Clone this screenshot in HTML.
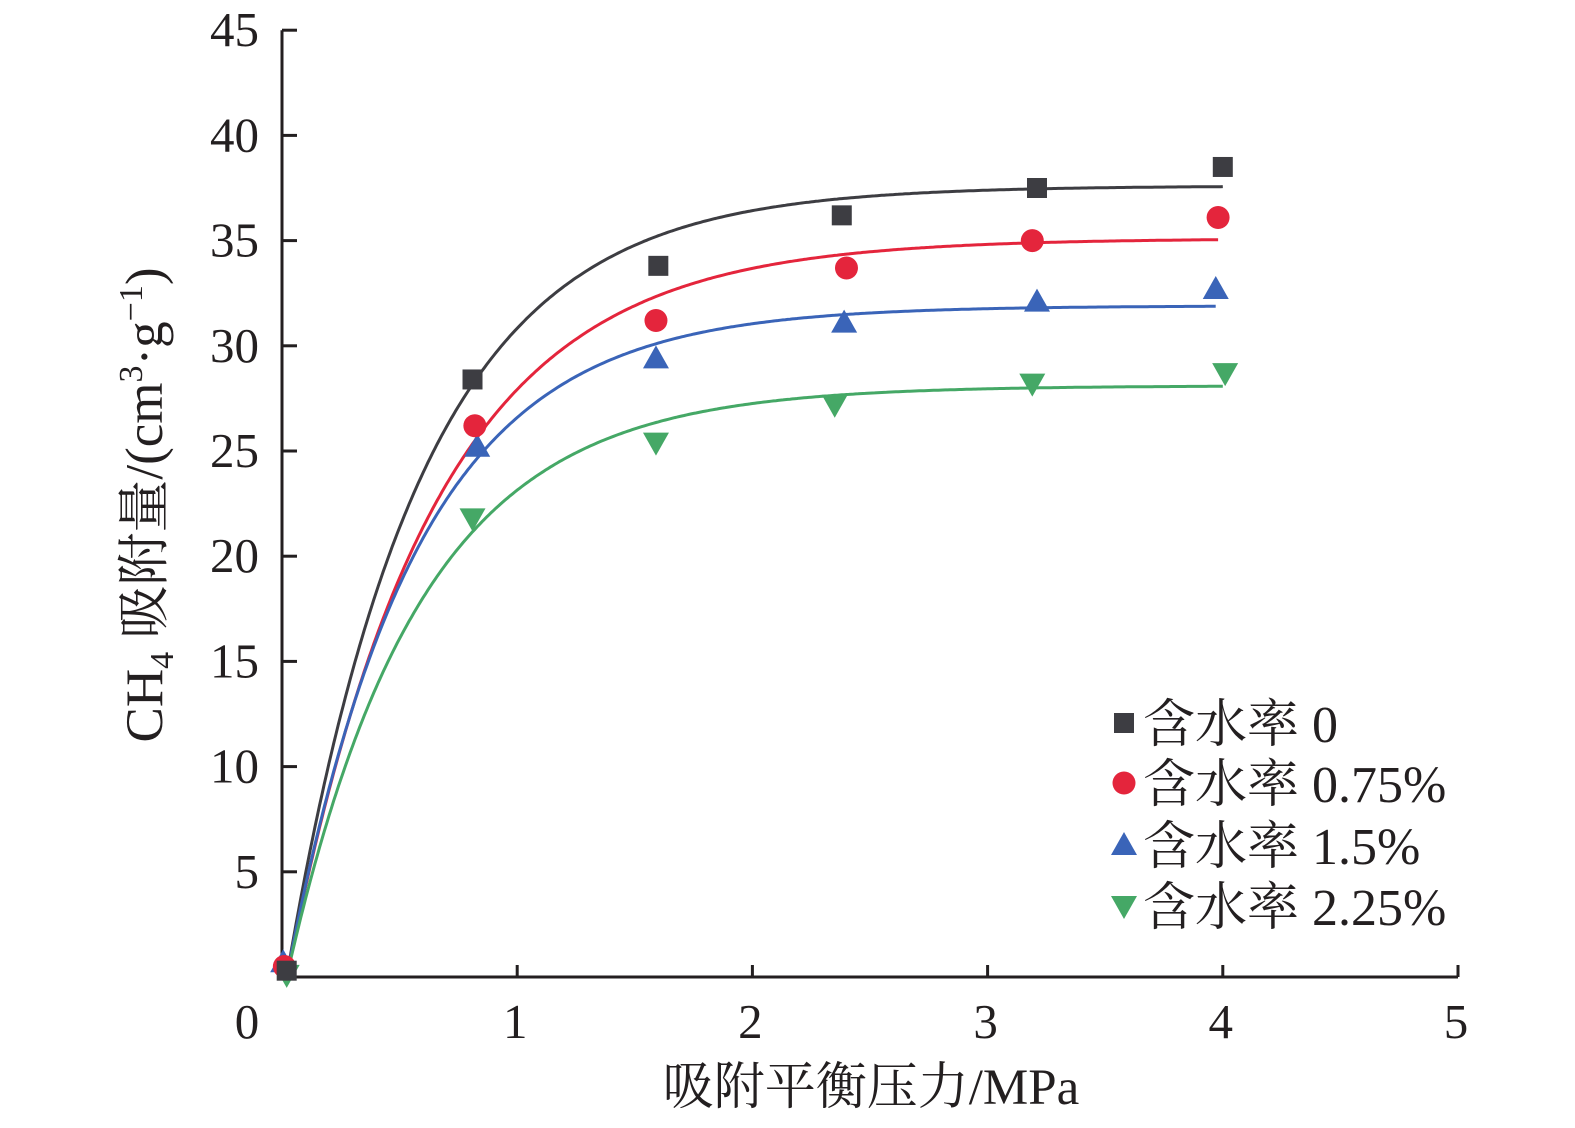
<!DOCTYPE html>
<html><head><meta charset="utf-8"><style>
html,body{margin:0;padding:0;background:#fff;overflow:hidden;}
svg{display:block;}
text{font-family:"Liberation Serif","Noto Serif CJK SC",serif;fill:#231f20;}
</style></head><body>
<svg id="chart" width="1575" height="1128" viewBox="0 0 1575 1128" xmlns="http://www.w3.org/2000/svg">
<g id="axes"></g>
<g id="curves"></g>
<g id="marks"></g>
<g id="legend"></g>
<text x="871" y="1104" font-size="51" text-anchor="middle">吸附平衡压力/MPa</text>
<text transform="translate(162,505) rotate(-90)" font-size="53" text-anchor="middle">CH<tspan font-size="34" dy="11">4</tspan><tspan dy="-11"> 吸附量/(cm</tspan><tspan font-size="34" dy="-20">3</tspan><tspan dy="20">·g</tspan><tspan font-size="34" dy="-20">−1</tspan><tspan dy="20">)</tspan></text>
</svg>
<script>
const xTicks=[0,1,2,3,4,5];
const yTicks=[5,10,15,20,25,30,35,40,45];
const seriesNames=["含水率 0","含水率 0.75%","含水率 1.5%","含水率 2.25%"];
const seriesColors=["#3d3d42","#e4253c","#3a64b8","#45a866"];
const seriesShapes=["square","circle","triangle","tri-down"];
const pressures0=[0.02,0.81,1.6,2.38,3.21,4.0];
const values0=[0.3,28.4,33.8,36.2,37.5,38.5];
const pressures1=[0.01,0.82,1.59,2.40,3.19,3.98];
const values1=[0.5,26.2,31.2,33.7,35.0,36.1];
const pressures2=[0.005,0.83,1.59,2.39,3.21,3.97];
const values2=[0.7,25.2,29.4,31.1,32.1,32.7];
const pressures3=[0.02,0.81,1.59,2.35,3.19,4.01];
const values3=[0.1,21.8,25.4,27.2,28.2,28.7];
const fitA=[37.6,35.1,31.9,28.1];
const fitK=[1.75,1.62,1.83,1.77];
const fitEnd=[4.0,3.98,3.97,4.0];

const X=p=>282+p*235.2;
const Y=v=>977-v*21.04;
const NS="http://www.w3.org/2000/svg";
function mk(tag,parent,attrs){const e=document.createElementNS(NS,tag);for(const k in attrs)e.setAttribute(k,attrs[k]);parent.appendChild(e);return e;}
const axes=document.getElementById('axes');
let a=mk('line',axes,{x1:282,y1:Y(45),x2:282,y2:978.5,stroke:'#231f20','stroke-width':3});


a=mk('line',axes,{x1:280.5,y1:977,x2:X(5),y2:977,stroke:'#231f20','stroke-width':3});


xTicks.forEach(t=>{
  if(t>0){const l=mk('line',axes,{x1:X(t),y1:977,x2:X(t),y2:965,stroke:'#231f20','stroke-width':3});
  
  }
  const tx=mk('text',axes,{x:t===0?247:X(t)-2,y:1038,'font-size':49,'text-anchor':'middle'});
  tx.textContent=t;
  
  
});
yTicks.forEach(t=>{
  const l=mk('line',axes,{x1:282,y1:Y(t),x2:297,y2:Y(t),stroke:'#231f20','stroke-width':3});
  
  
  const tx=mk('text',axes,{x:259,y:Y(t)+16,'font-size':49,'text-anchor':'end'});
  tx.textContent=t;
  
  
});
function marker(parent,shape,cx,cy,color){
  let e;
  if(shape==='square')e=mk('rect',parent,{x:cx-10,y:cy-10,width:20,height:20,fill:color});
  else if(shape==='circle')e=mk('circle',parent,{cx:cx,cy:cy,r:11.5,fill:color});
  else if(shape==='triangle')e=mk('polygon',parent,{points:`${cx},${cy-13} ${cx+13},${cy+10} ${cx-13},${cy+10}`,fill:color});
  else e=mk('polygon',parent,{points:`${cx-13},${cy-10} ${cx+13},${cy-10} ${cx},${cy+13}`,fill:color});
  return e;
}
const P=[pressures0,pressures1,pressures2,pressures3];
const V=[values0,values1,values2,values3];
const curves=document.getElementById('curves'),marks=document.getElementById('marks'),legend=document.getElementById('legend');
for(let s=0;s<4;s++){
  let d='';
  for(let p=0.02;p<=fitEnd[s]+1e-9;p+=0.01){
    const v=fitA[s]*(1-Math.exp(-fitK[s]*(p-0.02)));
    d+=(d?'L':'M')+X(p).toFixed(1)+','+Y(v).toFixed(1);
  }
  const c=mk('path',curves,{d:d,fill:'none',stroke:seriesColors[s],'stroke-width':3});
  
  
}
for(let s=3;s>=0;s--){
  for(let i=0;i<P[s].length;i++){
    const m=marker(marks,seriesShapes[s],X(P[s][i]),Y(V[s][i]),seriesColors[s]);
    
    
  }
}
const legY=[723,783,845,906];
for(let s=0;s<4;s++){
  const m=marker(legend,seriesShapes[s],1124,legY[s],seriesColors[s]);
  
  
  const t=mk('text',legend,{x:1143,y:legY[s]+19,'font-size':52});
  t.textContent=seriesNames[s];
  
  
}
</script>
</body></html>
